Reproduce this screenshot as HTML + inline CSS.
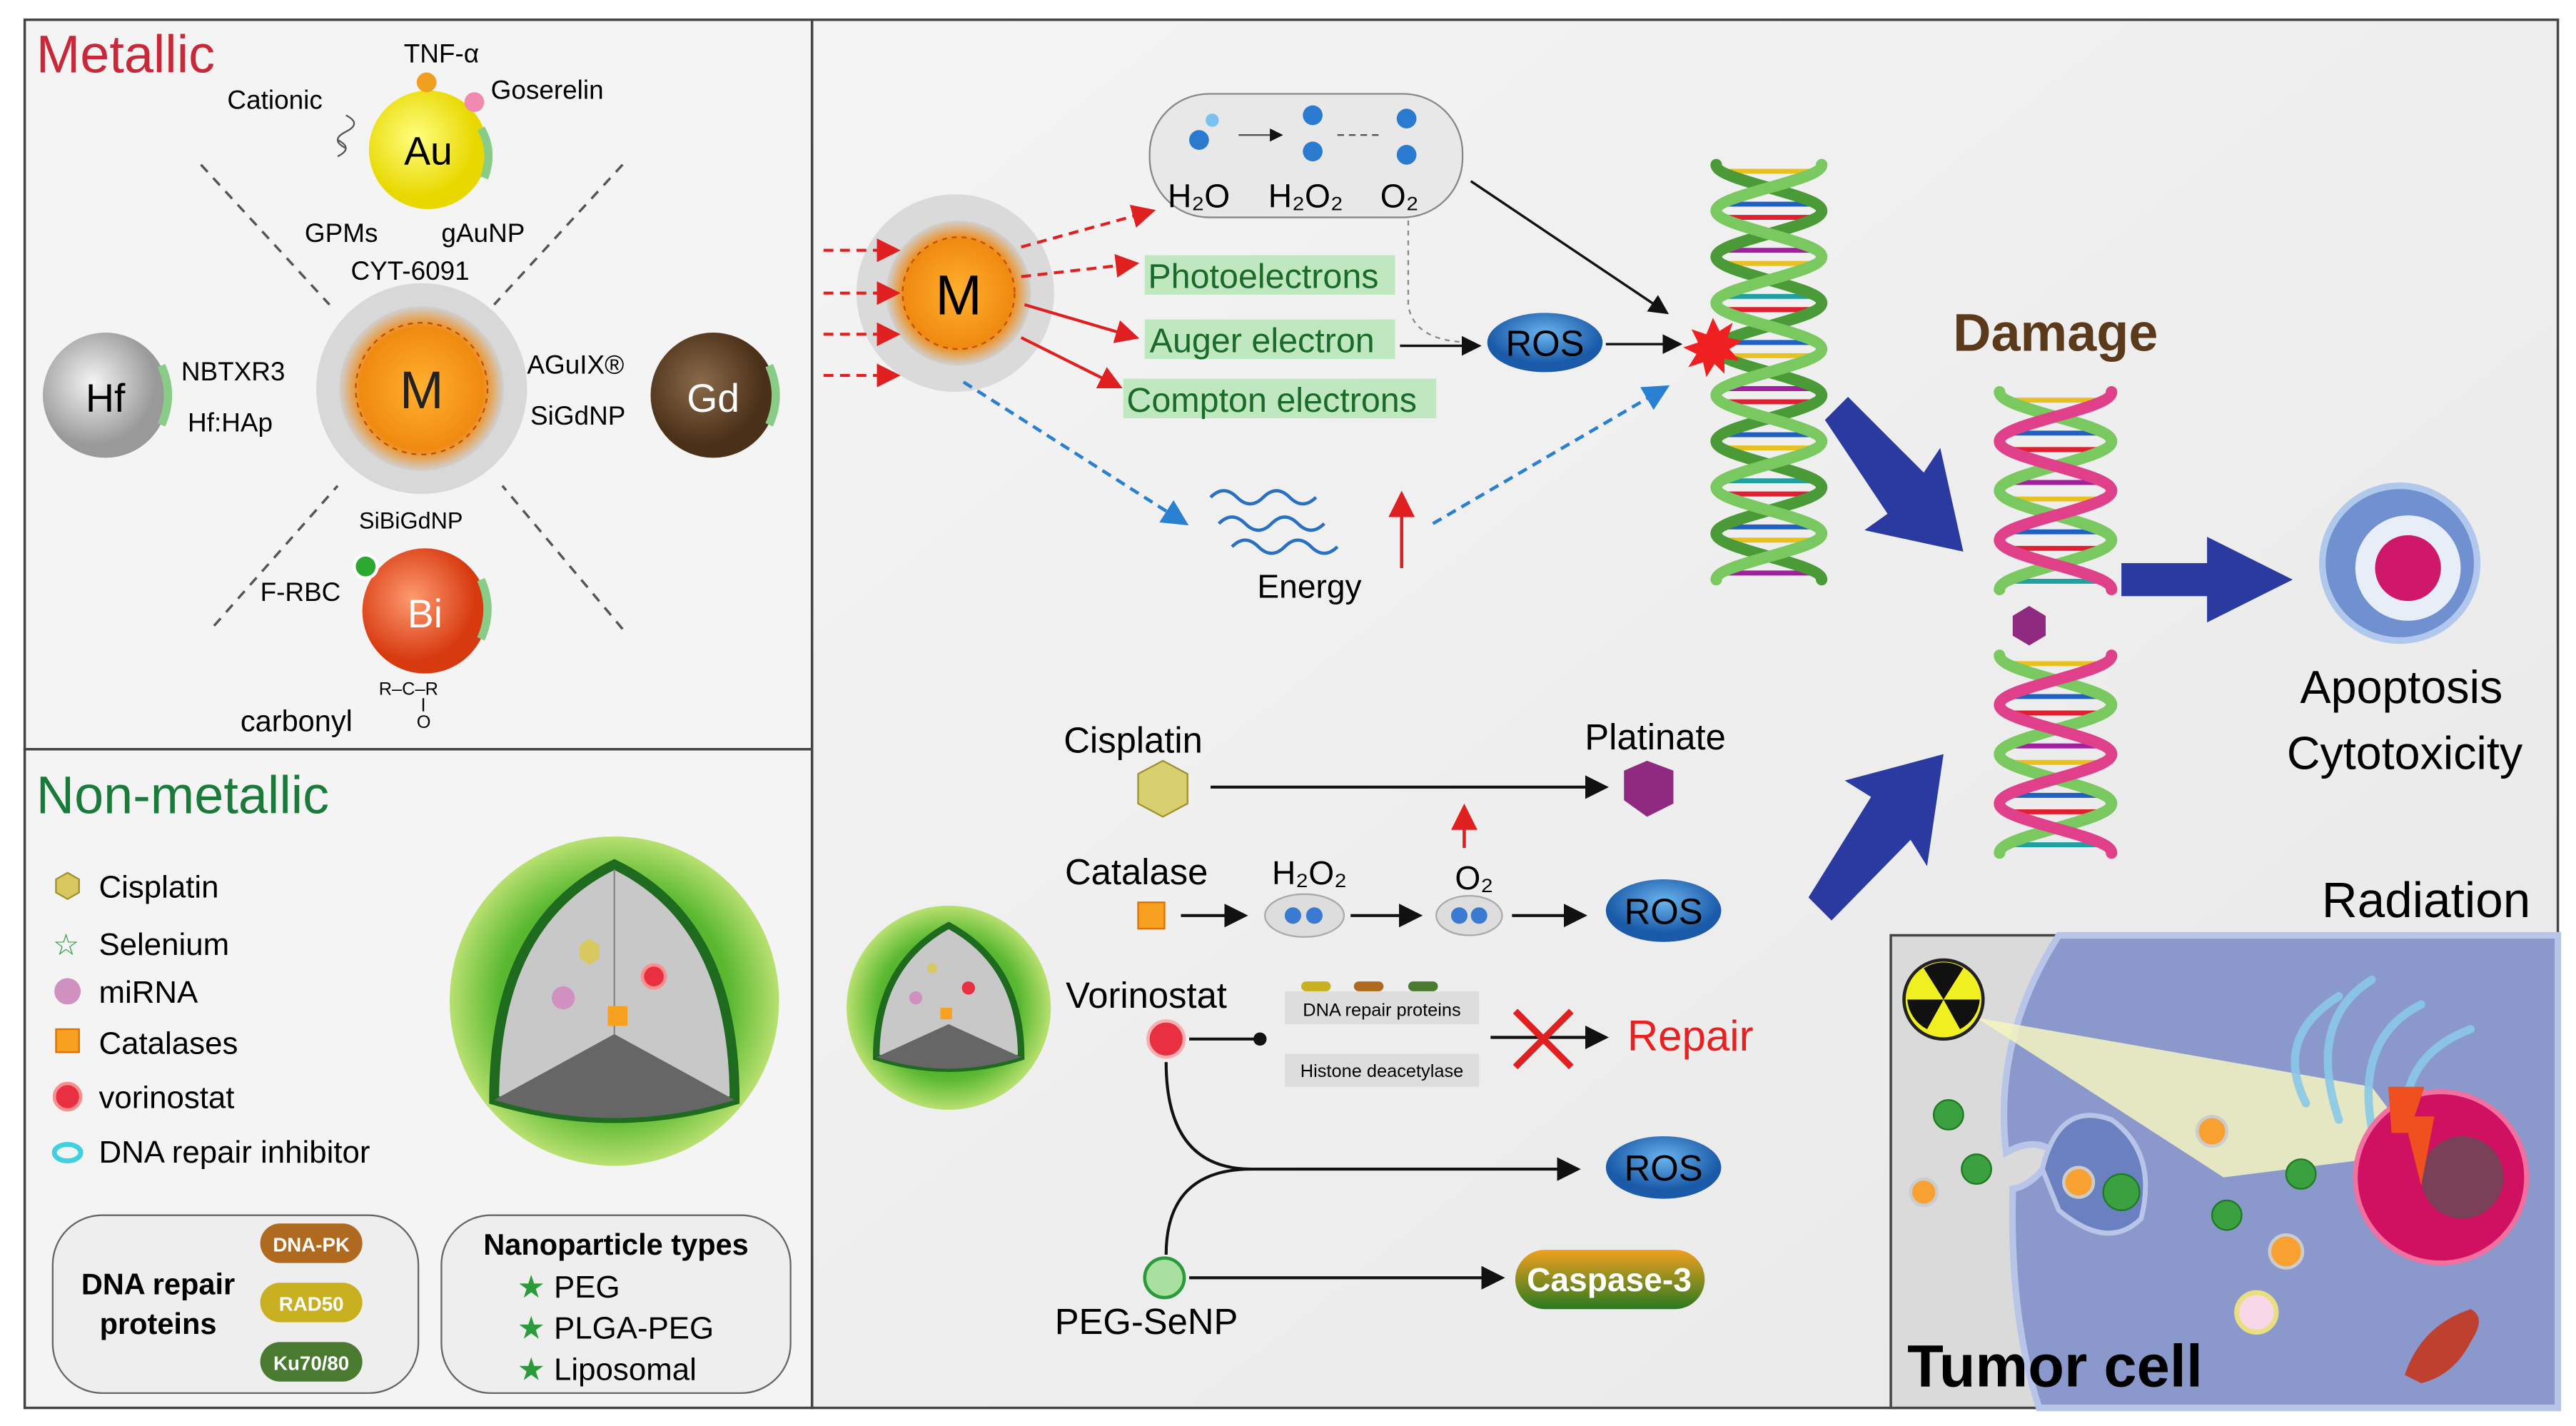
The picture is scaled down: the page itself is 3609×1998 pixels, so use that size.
<!DOCTYPE html>
<html><head><meta charset="utf-8"><style>
html,body{margin:0;padding:0;background:#fff}
svg{display:block}
text{font-family:"Liberation Sans",sans-serif}
</style></head><body>
<svg width="3609" height="1998" viewBox="0 0 1564 866" preserveAspectRatio="none" xmlns="http://www.w3.org/2000/svg">
<defs>
<radialGradient id="gAu" cx="40%" cy="40%"><stop offset="0" stop-color="#ffff80"/><stop offset="1" stop-color="#e8d800"/></radialGradient>
<radialGradient id="gHf" cx="40%" cy="40%"><stop offset="0" stop-color="#f4f4f4"/><stop offset="1" stop-color="#999"/></radialGradient>
<radialGradient id="gGd" cx="40%" cy="40%"><stop offset="0" stop-color="#8a6a4a"/><stop offset="1" stop-color="#4a3018"/></radialGradient>
<radialGradient id="gBi" cx="40%" cy="40%"><stop offset="0" stop-color="#ff9a70"/><stop offset="1" stop-color="#d83a10"/></radialGradient>
<radialGradient id="gM" cx="50%" cy="50%"><stop offset="0" stop-color="#ffb030"/><stop offset=".75" stop-color="#f08a10"/><stop offset="1" stop-color="#d0d0d0"/></radialGradient>
<radialGradient id="gNP" cx="50%" cy="50%"><stop offset="0" stop-color="#2e8a1e"/><stop offset=".7" stop-color="#5ab830"/><stop offset="1" stop-color="#b8e070"/></radialGradient>
<linearGradient id="gR" x1="0" y1="0" x2="1" y2="1"><stop offset="0" stop-color="#f4f4f4"/><stop offset="1" stop-color="#e8e8e8"/></linearGradient>
<radialGradient id="gROS" cx="50%" cy="35%"><stop offset="0" stop-color="#6ab4ee"/><stop offset="1" stop-color="#1a5aa8"/></radialGradient>
<linearGradient id="gCas" x1="0" y1="0" x2="0" y2="1"><stop offset="0" stop-color="#f0a020"/><stop offset="1" stop-color="#2a7a20"/></linearGradient>
<marker id="ak" markerWidth="8" markerHeight="8" refX="7" refY="4" orient="auto"><path d="M0,0 L8,4 L0,8 z" fill="#111"/></marker>
<marker id="ar" markerWidth="8" markerHeight="8" refX="7" refY="4" orient="auto"><path d="M0,0 L8,4 L0,8 z" fill="#e02020"/></marker>
<marker id="ab" markerWidth="8" markerHeight="8" refX="7" refY="4" orient="auto"><path d="M0,0 L8,4 L0,8 z" fill="#2a80d0"/></marker>
</defs>
<rect width="1564" height="866" fill="#fff"/>
<rect x="493" y="12" width="1060" height="843" fill="url(#gR)" stroke="#444" stroke-width="1.5"/>
<rect x="15" y="12" width="478" height="443" fill="#f4f4f4" stroke="#444" stroke-width="1.5"/>
<rect x="15" y="455" width="478" height="400" fill="#f4f4f4" stroke="#444" stroke-width="1.5"/>
<text x="22" y="44" font-size="32" fill="#c8283a">Metallic</text>
<text x="22" y="494" font-size="32" fill="#1a7a3a">Non-metallic</text>
<g stroke="#555" stroke-width="1.5" stroke-dasharray="6,5">
<line x1="122" y1="100" x2="200" y2="185"/><line x1="378" y1="100" x2="300" y2="185"/>
<line x1="130" y1="380" x2="205" y2="295"/><line x1="378" y1="382" x2="305" y2="295"/>
</g>
<circle cx="256" cy="236" r="64" fill="#d8d8d8"/><circle cx="256" cy="236" r="50" fill="url(#gM)"/>
<circle cx="256" cy="236" r="40" fill="none" stroke="#c05000" stroke-dasharray="3,3"/>
<text x="256" y="248" font-size="32" text-anchor="middle" fill="#222">M</text>
<circle cx="260" cy="91" r="36" fill="url(#gAu)"/><text x="260" y="100" font-size="24" text-anchor="middle">Au</text>
<circle cx="259" cy="50" r="6" fill="#f0a020"/><circle cx="288" cy="62" r="6" fill="#f08ab0"/>
<path d="M292,78 q8,14 2,30" stroke="#8c8" stroke-width="5" fill="none"/>
<path d="M210,70 q10,5 0,10 q-10,5 0,10 M205,85 q10,5 0,10" stroke="#555" fill="none"/>
<text x="268" y="38" font-size="16" text-anchor="middle">TNF-α</text>
<text x="138" y="66" font-size="16">Cationic</text>
<text x="298" y="60" font-size="16">Goserelin</text>
<text x="185" y="147" font-size="16">GPMs</text><text x="268" y="147" font-size="16">gAuNP</text>
<text x="213" y="170" font-size="16">CYT-6091</text>
<circle cx="64" cy="240" r="38" fill="url(#gHf)"/><text x="64" y="250" font-size="24" text-anchor="middle">Hf</text>
<path d="M98,222 q8,18 0,36" stroke="#8c8" stroke-width="5" fill="none"/>
<text x="110" y="231" font-size="16">NBTXR3</text><text x="114" y="262" font-size="16">Hf:HAp</text>
<circle cx="433" cy="240" r="38" fill="url(#gGd)"/><text x="433" y="250" font-size="24" text-anchor="middle" fill="#fff">Gd</text>
<path d="M467,222 q8,18 0,36" stroke="#8c8" stroke-width="5" fill="none"/>
<text x="320" y="227" font-size="16">AGuIX®</text><text x="322" y="258" font-size="16">SiGdNP</text>
<text x="218" y="321" font-size="14">SiBiGdNP</text>
<circle cx="258" cy="371" r="38" fill="url(#gBi)"/><text x="258" y="381" font-size="24" text-anchor="middle" fill="#fff">Bi</text>
<circle cx="222" cy="344" r="7" fill="#2aa830" stroke="#fff" stroke-width="2"/>
<path d="M292,352 q8,18 0,36" stroke="#8c8" stroke-width="5" fill="none"/>
<text x="158" y="365" font-size="16">F-RBC</text>
<text x="230" y="422" font-size="11">R–C–R</text><text x="253" y="442" font-size="11">O</text>
<line x1="257" y1="424" x2="257" y2="432" stroke="#000"/>
<text x="146" y="444" font-size="18">carbonyl</text>
<g font-size="19">
<polygon points="41,530 48,534 48,542 41,546 34,542 34,534" fill="#d8c860" stroke="#a09030"/><text x="60" y="545">Cisplatin</text>
<text x="32" y="580" font-size="18" fill="#2a9a3a">☆</text><text x="60" y="580">Selenium</text>
<circle cx="41" cy="602" r="8" fill="#d090c0"/><text x="60" y="609">miRNA</text>
<rect x="34" y="625" width="14" height="14" fill="#f8a020" stroke="#e07000"/><text x="60" y="640">Catalases</text>
<circle cx="41" cy="666" r="8" fill="#e83040" stroke="#f89090" stroke-width="2"/><text x="60" y="673">vorinostat</text>
<ellipse cx="41" cy="700" rx="8" ry="5" fill="none" stroke="#40d0e0" stroke-width="3"/><text x="60" y="706">DNA repair inhibitor</text>
</g>
<circle cx="373" cy="608" r="100" fill="url(#gNP)"/>
<path d="M300,668 Q300,560 373,525 Q446,560 446,668 Q373,690 300,668z" fill="#c8c8c8" stroke="#1e6a1e" stroke-width="6"/>
<path d="M300,668 L373,628 L446,668 Q373,690 300,668z" fill="#666"/>
<line x1="373" y1="528" x2="373" y2="628" stroke="#888"/>
<polygon points="358,570 364,574 364,582 358,586 352,582 352,574" fill="#d8c860"/>
<circle cx="397" cy="593" r="7" fill="#e83040" stroke="#f89090" stroke-width="2"/>
<circle cx="342" cy="606" r="7" fill="#d090c0"/>
<rect x="369" y="611" width="12" height="12" fill="#f8a020"/>
<rect x="32" y="738" width="222" height="108" rx="30" fill="#eee" stroke="#666"/>
<text x="96" y="786" font-size="18" font-weight="bold" text-anchor="middle">DNA repair</text>
<text x="96" y="810" font-size="18" font-weight="bold" text-anchor="middle">proteins</text>
<rect x="158" y="743" width="62" height="24" rx="12" fill="#b06a20"/><text x="189" y="760" font-size="12" fill="#fff" font-weight="bold" text-anchor="middle">DNA-PK</text>
<rect x="158" y="779" width="62" height="24" rx="12" fill="#c8b020"/><text x="189" y="796" font-size="12" fill="#fff" font-weight="bold" text-anchor="middle">RAD50</text>
<rect x="158" y="815" width="62" height="24" rx="12" fill="#4a7a30"/><text x="189" y="832" font-size="12" fill="#fff" font-weight="bold" text-anchor="middle">Ku70/80</text>
<rect x="268" y="738" width="212" height="108" rx="30" fill="#eee" stroke="#666"/>
<text x="374" y="762" font-size="18" font-weight="bold" text-anchor="middle">Nanoparticle types</text>
<g font-size="19"><text x="314" y="788"><tspan fill="#2a9a3a">★</tspan> PEG</text><text x="314" y="813"><tspan fill="#2a9a3a">★</tspan> PLGA-PEG</text><text x="314" y="838"><tspan fill="#2a9a3a">★</tspan> Liposomal</text></g>
<rect x="698" y="57" width="190" height="75" rx="36" fill="#e8e8e8" stroke="#888"/>
<text x="709" y="126" font-size="20">H₂O</text><text x="770" y="126" font-size="20">H₂O₂</text><text x="838" y="126" font-size="20">O₂</text>
<circle cx="728" cy="85" r="6" fill="#2a7ad0"/><circle cx="736" cy="73" r="4" fill="#7ac0f0"/>
<circle cx="797" cy="70" r="6" fill="#2a7ad0"/><circle cx="797" cy="92" r="6" fill="#2a7ad0"/>
<circle cx="854" cy="72" r="6" fill="#2a7ad0"/><circle cx="854" cy="94" r="6" fill="#2a7ad0"/>
<line x1="752" y1="82" x2="778" y2="82" stroke="#555" marker-end="url(#ak)"/>
<line x1="812" y1="82" x2="840" y2="82" stroke="#555" stroke-dasharray="4,3"/>
<circle cx="580" cy="178" r="60" fill="#dadada"/><circle cx="582" cy="178" r="44" fill="url(#gM)"/>
<circle cx="582" cy="178" r="34" fill="none" stroke="#c05000" stroke-dasharray="3,3"/>
<text x="582" y="191" font-size="34" text-anchor="middle">M</text>
<g stroke="#e02020" stroke-width="1.8" stroke-dasharray="6,4" fill="none">
<line x1="500" y1="152" x2="545" y2="152" marker-end="url(#ar)"/><line x1="500" y1="178" x2="545" y2="178" marker-end="url(#ar)"/>
<line x1="500" y1="203" x2="545" y2="203" marker-end="url(#ar)"/><line x1="500" y1="228" x2="545" y2="228" marker-end="url(#ar)"/>
<line x1="620" y1="150" x2="700" y2="128" marker-end="url(#ar)"/><line x1="620" y1="168" x2="690" y2="160" marker-end="url(#ar)"/>
</g>
<g stroke="#e02020" stroke-width="1.8" fill="none">
<line x1="622" y1="185" x2="690" y2="205" marker-end="url(#ar)"/><line x1="620" y1="205" x2="680" y2="235" marker-end="url(#ar)"/>
</g>
<rect x="695" y="155" width="152" height="24" fill="#bfe8c0"/><text x="697" y="175" font-size="21" fill="#1a6a2a">Photoelectrons</text>
<rect x="695" y="194" width="152" height="24" fill="#bfe8c0"/><text x="698" y="214" font-size="21" fill="#1a6a2a">Auger electron</text>
<rect x="682" y="230" width="190" height="24" fill="#bfe8c0"/><text x="684" y="250" font-size="21" fill="#1a6a2a">Compton electrons</text>
<path d="M855,134 L855,185 Q858,208 895,208" stroke="#888" stroke-dasharray="3,3" fill="none"/>
<line x1="850" y1="210" x2="898" y2="210" stroke="#111" stroke-width="1.5" marker-end="url(#ak)"/>
<ellipse cx="938" cy="208" rx="35" ry="18" fill="url(#gROS)"/><text x="938" y="216" font-size="22" text-anchor="middle">ROS</text>
<line x1="975" y1="209" x2="1020" y2="209" stroke="#111" stroke-width="1.5" marker-end="url(#ak)"/>
<line x1="893" y1="110" x2="1012" y2="190" stroke="#111" stroke-width="1.5" marker-end="url(#ak)"/>
<g stroke="#2a80d0" stroke-width="2" stroke-dasharray="6,4" fill="none">
<line x1="585" y1="232" x2="720" y2="318" marker-end="url(#ab)"/><line x1="870" y1="318" x2="1012" y2="235" marker-end="url(#ab)"/>
</g>
<g stroke="#2a70c0" stroke-width="2" fill="none">
<path d="M735,302 q8,-8 16,0 t16,0 t16,0 t16,0"/><path d="M740,318 q8,-8 16,0 t16,0 t16,0 t16,0"/><path d="M748,332 q8,-8 16,0 t16,0 t16,0 t16,0"/>
</g>
<line x1="851" y1="345" x2="851" y2="300" stroke="#e02020" stroke-width="2" marker-end="url(#ar)"/>
<text x="795" y="363" font-size="20" text-anchor="middle">Energy</text>
<!-- DNA helix 1 -->
<g stroke-width="3">
<line x1="1046" y1="104" x2="1102" y2="104" stroke="#e8c020"/><line x1="1046" y1="124" x2="1102" y2="124" stroke="#2060c0"/>
<line x1="1046" y1="132" x2="1102" y2="132" stroke="#e02030"/><line x1="1046" y1="152" x2="1102" y2="152" stroke="#a020a0"/>
<line x1="1046" y1="160" x2="1102" y2="160" stroke="#e8c020"/><line x1="1046" y1="180" x2="1102" y2="180" stroke="#20a0a0"/>
<line x1="1046" y1="188" x2="1102" y2="188" stroke="#e02030"/><line x1="1046" y1="208" x2="1102" y2="208" stroke="#2060c0"/>
<line x1="1046" y1="216" x2="1102" y2="216" stroke="#e8c020"/><line x1="1046" y1="236" x2="1102" y2="236" stroke="#a020a0"/>
<line x1="1046" y1="244" x2="1102" y2="244" stroke="#e02030"/><line x1="1046" y1="264" x2="1102" y2="264" stroke="#2060c0"/>
<line x1="1046" y1="272" x2="1102" y2="272" stroke="#e8c020"/><line x1="1046" y1="292" x2="1102" y2="292" stroke="#20a0a0"/>
<line x1="1046" y1="300" x2="1102" y2="300" stroke="#e02030"/><line x1="1046" y1="320" x2="1102" y2="320" stroke="#2060c0"/>
<line x1="1046" y1="328" x2="1102" y2="328" stroke="#e8c020"/><line x1="1046" y1="348" x2="1102" y2="348" stroke="#a020a0"/>
</g>
<g fill="none" stroke-width="7" stroke-linecap="round">
<path d="M1042,100 C1042,110 1106,118 1106,128 C1106,138 1042,146 1042,156 C1042,166 1106,174 1106,184 C1106,194 1042,202 1042,212 C1042,222 1106,230 1106,240 C1106,250 1042,258 1042,268 C1042,278 1106,286 1106,296 C1106,306 1042,314 1042,324 C1042,334 1106,342 1106,352" stroke="#4a9a38"/>
<path d="M1106,100 C1106,110 1042,118 1042,128 C1042,138 1106,146 1106,156 C1106,166 1042,174 1042,184 C1042,194 1106,202 1106,212 C1106,222 1042,230 1042,240 C1042,250 1106,258 1106,268 C1106,278 1042,286 1042,296 C1042,306 1106,314 1106,324 C1106,334 1042,342 1042,352" stroke="#7ac860"/>
</g>
<path d="M1040,193 l4,8 8,-5 -3,9 9,2 -8,5 6,7 -9,-1 0,9 -6,-6 -5,8 -2,-9 -9,3 5,-8 -8,-4 9,-3 -4,-8 9,3z" fill="#f02020"/>
<text x="1248" y="213" font-size="32" font-weight="bold" text-anchor="middle" fill="#5a3a1a">Damage</text>
<!-- DNA helix 2 -->
<g stroke-width="3">
<line x1="1218" y1="243" x2="1278" y2="243" stroke="#e8c020"/><line x1="1218" y1="263" x2="1278" y2="263" stroke="#2060c0"/>
<line x1="1218" y1="273" x2="1278" y2="273" stroke="#e02030"/><line x1="1218" y1="293" x2="1278" y2="293" stroke="#a020a0"/>
<line x1="1218" y1="303" x2="1278" y2="303" stroke="#e8c020"/><line x1="1218" y1="323" x2="1278" y2="323" stroke="#2060c0"/>
<line x1="1218" y1="333" x2="1278" y2="333" stroke="#e02030"/><line x1="1218" y1="353" x2="1278" y2="353" stroke="#20a0a0"/>
<line x1="1218" y1="403" x2="1278" y2="403" stroke="#e8c020"/><line x1="1218" y1="423" x2="1278" y2="423" stroke="#2060c0"/>
<line x1="1218" y1="433" x2="1278" y2="433" stroke="#e02030"/><line x1="1218" y1="453" x2="1278" y2="453" stroke="#a020a0"/>
<line x1="1218" y1="463" x2="1278" y2="463" stroke="#e8c020"/><line x1="1218" y1="483" x2="1278" y2="483" stroke="#2060c0"/>
<line x1="1218" y1="493" x2="1278" y2="493" stroke="#e02030"/><line x1="1218" y1="513" x2="1278" y2="513" stroke="#20a0a0"/>
</g>
<g fill="none" stroke-width="7" stroke-linecap="round">
<path d="M1214,238 C1214,249 1282,257 1282,268 C1282,279 1214,287 1214,298 C1214,309 1282,317 1282,328 C1282,339 1214,347 1214,358 M1214,398 C1214,409 1282,417 1282,428 C1282,439 1214,447 1214,458 C1214,469 1282,477 1282,488 C1282,499 1214,507 1214,518" stroke="#7ac860"/>
<path d="M1282,238 C1282,249 1214,257 1214,268 C1214,279 1282,287 1282,298 C1282,309 1214,317 1214,328 C1214,339 1282,347 1282,358 M1282,398 C1282,409 1214,417 1214,428 C1214,439 1282,447 1282,458 C1282,469 1214,477 1214,488 C1214,499 1282,507 1282,518" stroke="#e0408a"/>
</g>
<polygon points="1232,368 1242,374 1242,386 1232,392 1222,386 1222,374" fill="#902a80"/>
<g fill="#2a3aa0">
<polygon points="1108,255 1122,241 1168,287 1178,272 1192,335 1132,322 1146,312"/>
<polygon points="1098,545 1112,559 1160,510 1170,526 1180,458 1120,474 1136,484"/>
<polygon points="1288,342 1340,342 1340,326 1392,352 1340,378 1340,362 1288,362"/>
</g>
<circle cx="1457" cy="342" r="47" fill="#7090d0" stroke="#b0c8ec" stroke-width="4"/>
<circle cx="1462" cy="345" r="32" fill="#e8eef8"/><circle cx="1462" cy="345" r="20" fill="#d0186a"/>
<text x="1458" y="427" font-size="28" text-anchor="middle">Apoptosis</text>
<text x="1460" y="467" font-size="28" text-anchor="middle">Cytotoxicity</text>
<text x="688" y="457" font-size="22" text-anchor="middle">Cisplatin</text>
<polygon points="706,462 721,470 721,488 706,496 691,488 691,470" fill="#d8d070" stroke="#a09030"/>
<line x1="735" y1="478" x2="975" y2="478" stroke="#111" stroke-width="1.8" marker-end="url(#ak)"/>
<text x="1005" y="455" font-size="22" text-anchor="middle">Platinate</text>
<polygon points="1000,462 1016,468 1016,488 1000,496 986,486 986,468" fill="#902a80"/>
<line x1="889" y1="515" x2="889" y2="490" stroke="#e02020" stroke-width="2" marker-end="url(#ar)"/>
<text x="690" y="537" font-size="22" text-anchor="middle">Catalase</text>
<rect x="691" y="548" width="16" height="16" fill="#f8a020" stroke="#e07000"/>
<line x1="717" y1="556" x2="756" y2="556" stroke="#111" stroke-width="1.8" marker-end="url(#ak)"/>
<text x="795" y="537" font-size="20" text-anchor="middle">H₂O₂</text>
<ellipse cx="792" cy="556" rx="24" ry="13" fill="#ddd" stroke="#aaa"/><circle cx="785" cy="556" r="5" fill="#3a7ad0"/><circle cx="798" cy="556" r="5" fill="#3a7ad0"/>
<line x1="820" y1="556" x2="862" y2="556" stroke="#111" stroke-width="1.8" marker-end="url(#ak)"/>
<text x="895" y="540" font-size="20" text-anchor="middle">O₂</text>
<ellipse cx="892" cy="556" rx="20" ry="12" fill="#ddd" stroke="#aaa"/><circle cx="886" cy="556" r="5" fill="#3a7ad0"/><circle cx="898" cy="556" r="5" fill="#3a7ad0"/>
<line x1="918" y1="556" x2="962" y2="556" stroke="#111" stroke-width="1.8" marker-end="url(#ak)"/>
<ellipse cx="1010" cy="553" rx="35" ry="19" fill="url(#gROS)"/><text x="1010" y="561" font-size="22" text-anchor="middle">ROS</text>
<circle cx="576" cy="612" r="62" fill="url(#gNP)"/>
<path d="M532,642 Q532,586 576,562 Q620,586 620,642 Q576,656 532,642z" fill="#c8c8c8" stroke="#1e6a1e" stroke-width="4"/>
<path d="M532,642 L576,622 L620,642 Q576,656 532,642z" fill="#666"/>
<circle cx="588" cy="600" r="4" fill="#e83040"/><circle cx="556" cy="606" r="4" fill="#d090c0"/><circle cx="566" cy="588" r="3" fill="#d8c860"/><rect x="571" y="612" width="7" height="7" fill="#f8a020"/>
<text x="696" y="612" font-size="22" text-anchor="middle">Vorinostat</text>
<circle cx="708" cy="631" r="11" fill="#e83040" stroke="#f8b0b0" stroke-width="2"/>
<line x1="722" y1="631" x2="762" y2="631" stroke="#111" stroke-width="1.8"/><circle cx="765" cy="631" r="4" fill="#111"/>
<rect x="780" y="602" width="118" height="20" fill="#ddd"/><text x="839" y="617" font-size="11" text-anchor="middle">DNA repair proteins</text>
<rect x="790" y="596" width="18" height="6" rx="3" fill="#c8b020"/><rect x="822" y="596" width="18" height="6" rx="3" fill="#b06a20"/><rect x="855" y="596" width="18" height="6" rx="3" fill="#4a7a30"/>
<rect x="780" y="640" width="118" height="20" fill="#ddd"/><text x="839" y="654" font-size="11" text-anchor="middle">Histone deacetylase</text>
<line x1="905" y1="630" x2="975" y2="630" stroke="#111" stroke-width="1.8" marker-end="url(#ak)"/>
<path d="M920,614 l34,34 M954,614 l-34,34" stroke="#e02020" stroke-width="4"/>
<text x="988" y="638" font-size="26" fill="#e82020">Repair</text>
<path d="M708,645 Q708,710 760,710 L958,710" stroke="#111" stroke-width="1.8" fill="none" marker-end="url(#ak)"/>
<path d="M708,762 Q708,710 760,710" stroke="#111" stroke-width="1.8" fill="none"/>
<ellipse cx="1010" cy="709" rx="35" ry="19" fill="url(#gROS)"/><text x="1010" y="717" font-size="22" text-anchor="middle">ROS</text>
<circle cx="707" cy="776" r="12" fill="#a8e0a0" stroke="#2a9a3a" stroke-width="2"/>
<line x1="722" y1="776" x2="912" y2="776" stroke="#111" stroke-width="1.8" marker-end="url(#ak)"/>
<text x="696" y="810" font-size="22" text-anchor="middle">PEG-SeNP</text>
<rect x="920" y="759" width="115" height="36" rx="18" fill="url(#gCas)"/><text x="977" y="784" font-size="20" font-weight="bold" fill="#fff" text-anchor="middle">Caspase-3</text>
<text x="1473" y="557" font-size="30" text-anchor="middle">Radiation</text>
<rect x="1148" y="568" width="405" height="287" fill="#dadada" stroke="#444" stroke-width="1.5"/>
<path d="M1250,568 Q1210,630 1218,700 Q1235,690 1248,700 Q1235,720 1222,722 Q1220,800 1238,855 L1553,855 L1553,568z" fill="#8a98cc" stroke="#b8c4e8" stroke-width="4"/>
<path d="M1240,710 Q1250,668 1282,680 Q1310,700 1300,740 Q1280,760 1250,735z" fill="#6a80c0" stroke="#b8c4e8" stroke-width="3"/>
<polygon points="1200,618 1440,660 1470,700 1350,715" fill="#f4f4c0" opacity=".85"/>
<g fill="none" stroke="#8ac8e8" stroke-width="5" stroke-linecap="round" opacity=".9">
<path d="M1420,680 Q1400,620 1440,595"/><path d="M1440,685 Q1430,630 1470,610"/><path d="M1460,680 Q1460,640 1500,625"/><path d="M1400,670 Q1380,630 1420,605"/>
</g>
<circle cx="1482" cy="715" r="52" fill="#d01060" stroke="#f070a0" stroke-width="3"/>
<circle cx="1495" cy="715" r="25" fill="#555" opacity=".7"/>
<polygon points="1450,660 1472,660 1466,678 1478,678 1470,720 1462,688 1452,688" fill="#f05020"/>
<circle cx="1180" cy="607" r="24" fill="#f0f020" stroke="#222" stroke-width="2"/>
<path d="M1180,607 L1168,588 A22,22 0 0,1 1192,588z M1180,607 L1202,607 A22,22 0 0,1 1190,625z M1180,607 L1170,625 A22,22 0 0,1 1158,607z" fill="#111"/>
<g fill="#3aa040" stroke="#1e7a1e"><circle cx="1183" cy="677" r="9"/><circle cx="1200" cy="710" r="9"/><circle cx="1288" cy="724" r="11"/><circle cx="1352" cy="738" r="9"/><circle cx="1397" cy="713" r="9"/></g>
<g fill="#f8a030" stroke="#ccc" stroke-width="2"><circle cx="1168" cy="724" r="8"/><circle cx="1262" cy="718" r="9"/><circle cx="1343" cy="687" r="9"/><circle cx="1388" cy="760" r="10"/></g>
<circle cx="1370" cy="797" r="12" fill="#f8d8e8" stroke="#e8e080" stroke-width="3"/>
<path d="M1460,835 Q1470,805 1500,795 Q1510,800 1500,815 Q1490,835 1470,840z" fill="#c04030"/>
<text x="1158" y="842" font-size="36" font-weight="bold">Tumor cell</text>
</svg>
</body></html>
